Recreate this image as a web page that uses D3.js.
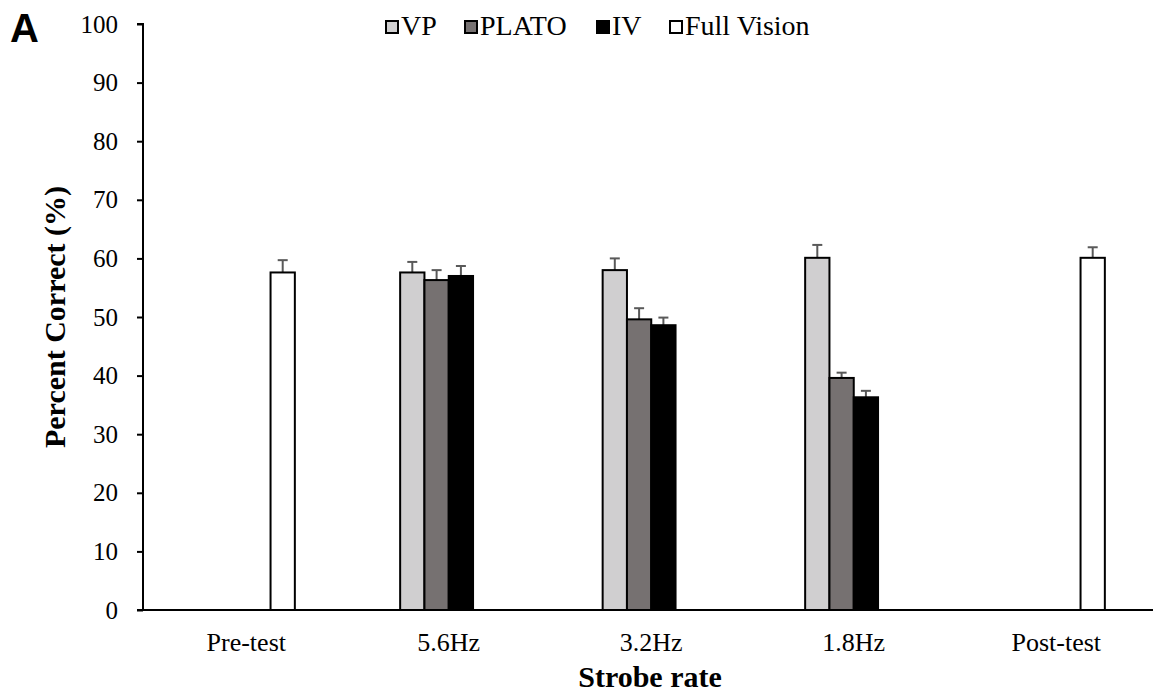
<!DOCTYPE html>
<html>
<head>
<meta charset="utf-8">
<script src="https://cdn.jsdelivr.net/npm/d3@7"></script>
<style>
  body { margin: 0; background: #fff; }
  svg { display: block; }
</style>
</head>
<body>
<div id="chart"></div>
<script>
(() => {
const phases = ['Pre-test', '5.6Hz', '3.2Hz', '1.8Hz', 'Post-test'];
const seriesNames = ['VP', 'PLATO', 'IV', 'Full Vision'];
const vpValues = [null, 57.6, 58.0, 60.1, null];
const vpErrors = [null, 1.8, 2.0, 2.2, null];
const platoValues = [null, 56.3, 49.6, 39.6, null];
const platoErrors = [null, 1.7, 1.9, 0.9, null];
const ivValues = [null, 57.0, 48.6, 36.3, null];
const ivErrors = [null, 1.7, 1.3, 1.1, null];
const fullValues = [57.6, null, null, null, 60.1];
const fullErrors = [2.1, null, null, null, 1.8];
const yTicks = [0, 10, 20, 30, 40, 50, 60, 70, 80, 90, 100];

const colors = ['#d0cfd0', '#767171', '#000000', '#ffffff'];
const serif = '"Liberation Serif", "Times New Roman", serif';

const width = 1153;
const height = 695;
const margin = { top: 24, right: 0, bottom: 85, left: 143 };

const svg = d3.select('#chart')
    .append('svg')
    .attr('width', width)
    .attr('height', height);

const x0 = d3.scaleBand()
    .domain(phases)
    .range([margin.left + 2, margin.left + 2 + 202.5 * phases.length]);

const bw = x0.bandwidth();
const x1 = d3.scaleBand()
    .domain(seriesNames)
    .range([bw * 0.26, bw * 0.74]);

const y = d3.scaleLinear()
    .domain([0, 100])
    .range([height - margin.bottom, margin.top]);

// y axis
const yAxis = svg.append('g')
    .attr('transform', `translate(${margin.left},0)`)
    .call(d3.axisLeft(y).tickValues(yTicks).tickSize(6).tickPadding(19));
yAxis.select('.domain').attr('stroke', '#000').attr('stroke-width', 2).attr('d', `M-6,${y(100)}H0V${y(0)}`);
yAxis.selectAll('.tick line').attr('stroke', '#000').attr('stroke-width', 2);
yAxis.selectAll('.tick text')
    .attr('font-family', serif)
    .attr('font-size', 25)
    .attr('fill', '#000');

// x axis
const xAxis = svg.append('g')
    .attr('transform', `translate(0,${y(0)})`)
    .call(d3.axisBottom(x0).tickSize(0).tickPadding(23));
xAxis.select('.domain').attr('stroke', '#000').attr('stroke-width', 2).attr('d', `M${margin.left - 6},0H${width}`);
xAxis.selectAll('.tick text')
    .attr('font-family', serif)
    .attr('font-size', 26)
    .attr('fill', '#000');

const rows = phases.map((p, i) => ({
    phase: p,
    bars: [
        { key: 'VP', value: vpValues[i], err: vpErrors[i] },
        { key: 'PLATO', value: platoValues[i], err: platoErrors[i] },
        { key: 'IV', value: ivValues[i], err: ivErrors[i] },
        { key: 'Full Vision', value: fullValues[i], err: fullErrors[i] }
    ].filter(d => d.value !== null)
}));

const groups = svg.selectAll('g.group')
    .data(rows)
    .enter()
    .append('g')
    .attr('class', 'group')
    .attr('transform', d => `translate(${x0(d.phase)},0)`);

// error bars first so bars sit on top of the stem base
groups.selectAll('g.err')
    .data(d => d.bars)
    .enter()
    .append('g')
    .attr('class', 'err')
    .each(function (d) {
        const cx = x1(d.key) + x1.bandwidth() / 2;
        const g = d3.select(this);
        g.append('line')
            .attr('x1', cx).attr('x2', cx)
            .attr('y1', y(d.value)).attr('y2', y(d.value + d.err))
            .attr('stroke', '#595959').attr('stroke-width', 2);
        g.append('line')
            .attr('x1', cx - 5).attr('x2', cx + 5)
            .attr('y1', y(d.value + d.err)).attr('y2', y(d.value + d.err))
            .attr('stroke', '#595959').attr('stroke-width', 2);
    });

groups.selectAll('rect')
    .data(d => d.bars)
    .enter()
    .append('rect')
    .attr('x', d => x1(d.key))
    .attr('y', d => y(d.value))
    .attr('width', x1.bandwidth())
    .attr('height', d => y(0) - y(d.value))
    .attr('fill', d => colors[seriesNames.indexOf(d.key)])
    .attr('stroke', '#000')
    .attr('stroke-width', 2);

// legend
const legendX = [385, 464, 596, 669];
const legend = svg.append('g');
seriesNames.forEach((name, i) => {
    legend.append('rect')
        .attr('x', legendX[i] + 1)
        .attr('y', 21)
        .attr('width', 12)
        .attr('height', 12)
        .attr('fill', colors[i])
        .attr('stroke', '#000')
        .attr('stroke-width', 2);
    legend.append('text')
        .attr('x', legendX[i] + 16)
        .attr('y', 35)
        .attr('font-family', serif)
        .attr('font-size', 28)
        .attr('fill', '#000')
        .text(name);
});

// axis titles
svg.append('text')
    .attr('x', 650)
    .attr('y', 687)
    .attr('text-anchor', 'middle')
    .attr('font-family', serif)
    .attr('font-weight', 'bold')
    .attr('font-size', 30)
    .text('Strobe rate');

svg.append('text')
    .attr('transform', `translate(65,${y(50)}) rotate(-90)`)
    .attr('text-anchor', 'middle')
    .attr('font-family', serif)
    .attr('font-weight', 'bold')
    .attr('font-size', 30)
    .text('Percent Correct (%)');

svg.append('text')
    .attr('x', 10)
    .attr('y', 42)
    .attr('font-family', '"Liberation Sans", Arial, sans-serif')
    .attr('font-weight', 'bold')
    .attr('font-size', 40)
    .text('A');
})();
</script>
</body>
</html>
